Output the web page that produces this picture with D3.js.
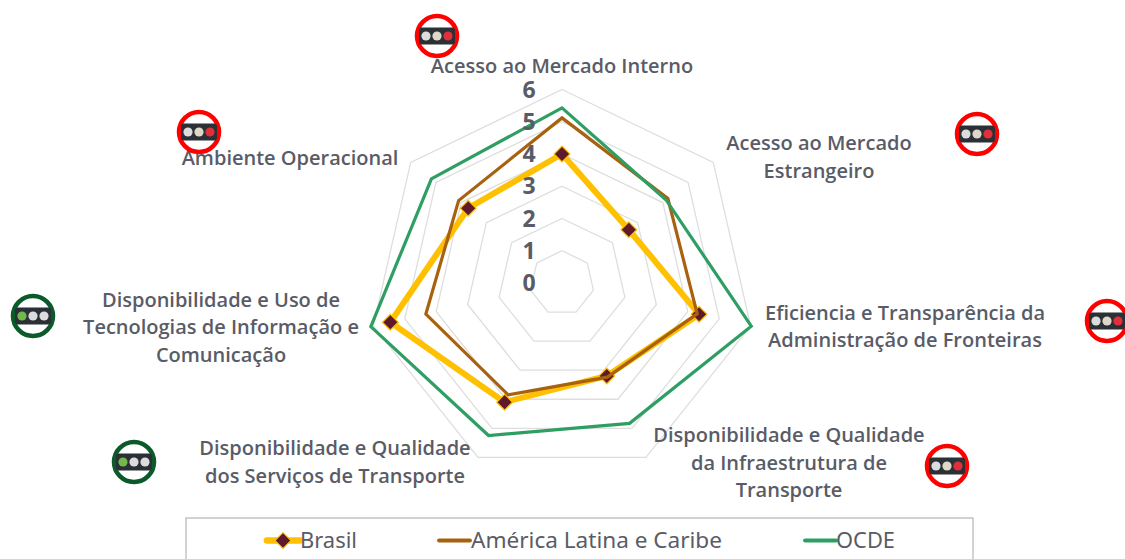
<!DOCTYPE html>
<html><head><meta charset="utf-8">
<script src="https://cdn.jsdelivr.net/npm/d3@7/dist/d3.min.js"></script>
<style>html,body{margin:0;padding:0;background:#fff;overflow:hidden}</style>
</head><body><svg id="c" width="1125" height="559"></svg>
<script>
const categories = ["Acesso ao Mercado Interno","Acesso ao Mercado Estrangeiro","Eficiencia e Transparência da Administração de Fronteiras","Disponibilidade e Qualidade da Infraestrutura de Transporte","Disponibilidade e Qualidade dos Serviços de Transporte","Disponibilidade e Uso de Tecnologias de Informação e Comunicação","Ambiente Operacional"];
const brasil = [4.0,2.65,4.36,3.2,4.1,5.46,3.72];
const latam = [5.12,4.2,4.3,3.24,3.85,4.33,4.1];
const ocde = [5.43,4.13,6.02,4.83,5.25,6.08,5.18];
const ticks = [0,1,2,3,4,5,6];
const signals = ["red","red","red","red","green","green","red"];

const labelLines = [["Acesso ao Mercado Interno"],["Acesso ao Mercado","Estrangeiro"],["Eficiencia e Transparência da","Administração de Fronteiras"],["Disponibilidade e Qualidade","da Infraestrutura de","Transporte"],["Disponibilidade e Qualidade","dos Serviços de Transporte"],["Disponibilidade e Uso de","Tecnologias de Informação e","Comunicação"],["Ambiente Operacional"]];
const labelAnchors = [[562,73],[819,150],[905,319.5],[789,442],[335,455],[221,306.5],[290,164.5]];
const iconAnchors = [[437,36],[977,134],[1107,321],[947,466],[134,462],[33,316],[199,132]];

const svg = d3.select("#c"), cx = 562, cy = 283;
const r = d3.scaleLinear().domain([0,6]).range([0,193.5]);
const ang = d3.scalePoint().domain(d3.range(categories.length)).range([0,2*Math.PI*6/7]);
const radial = d3.lineRadial().angle((d,i)=>ang(i)).radius(d=>r(d)).curve(d3.curveLinearClosed);
const g = svg.append("g").attr("transform",`translate(${cx},${cy})`);
const txt = "#595C66";

ticks.slice(1).forEach(t=>{
  g.append("path").attr("d",radial(categories.map(()=>t))).attr("fill","none").attr("stroke","#dedede").attr("stroke-width",1.3);
});

const series = [
  {name:"Brasil",v:brasil,c:"#FFC000",w:6},
  {name:"América Latina e Caribe",v:latam,c:"#A8610F",w:3.2},
  {name:"OCDE",v:ocde,c:"#2E9E63",w:3.2}
];
const diamond = d3.symbol().type(d3.symbolSquare).size(125);
series.forEach(s=>{
  g.append("path").attr("d",radial(s.v)).attr("fill","none").attr("stroke",s.c).attr("stroke-width",s.w).attr("stroke-linejoin","miter");
  if(s.name==="Brasil"){
    s.v.forEach((d,i)=>{
      const a=ang(i);
      g.append("path").attr("d",diamond()).attr("transform",`translate(${r(d)*Math.sin(a)},${-r(d)*Math.cos(a)}) rotate(45)`)
       .attr("fill","#5E1A2B").attr("stroke","#FFC000").attr("stroke-width",1.2);
    });
  }
});

ticks.forEach(t=>{
  g.append("text").attr("x",-33).attr("y",-r(t)+8).attr("font-family","'Open Sans'").attr("font-weight",700).attr("font-size",23).attr("fill",txt)
   .attr("text-anchor","middle").text(t);
});

labelLines.forEach((lines,i)=>{
  lines.forEach((l,j)=>{
    svg.append("text").attr("x",labelAnchors[i][0]).attr("y",labelAnchors[i][1]+j*27.5)
      .attr("text-anchor","middle").attr("font-family","'Open Sans'").attr("font-weight",600).attr("font-size",20).attr("fill",txt).text(l);
  });
});

const ringCol = {red:"#FF0000",green:"#0B5A2A"};
signals.forEach((s,i)=>{
  const [x,y]=iconAnchors[i];
  const ic=svg.append("g").attr("transform",`translate(${x},${y})`);
  ic.append("circle").attr("r",20).attr("fill","#fff").attr("stroke",ringCol[s]).attr("stroke-width",4.5);
  ic.append("rect").attr("x",-18).attr("y",-8.5).attr("width",36).attr("height",17).attr("rx",3).attr("fill","#2B2F36");
  const cols = s==="red"?["#DCDCDC","#DDD8C8","#E0303C"]:["#72B84A","#DCDCDC","#DCDCDC"];
  cols.forEach((c,k)=>ic.append("circle").attr("cx",(k-1)*11).attr("r",4.6).attr("fill",c));
});

// legend
svg.append("rect").attr("x",186).attr("y",518).attr("width",787).attr("height",60).attr("fill","#fff").attr("stroke","#a6a6a6").attr("stroke-width",1);
const lx=[[267,300],[439,470],[805,836]];
const tx=[300,471,836];
const lw=[57,251,59];
series.forEach((s,i)=>{
  const y=540.5;
  svg.append("line").attr("x1",lx[i][0]).attr("x2",lx[i][1]).attr("y1",y).attr("y2",y).attr("stroke",s.c).attr("stroke-width",s.w+0.6).attr("stroke-linecap","round");
  svg.append("text").attr("x",tx[i]).attr("y",548).attr("font-family","'Noto Sans'").attr("font-size",22).attr("fill",txt)
    .attr("textLength",lw[i]).attr("lengthAdjust","spacingAndGlyphs").text(s.name);
});
svg.append("path").attr("d",diamond()).attr("transform","translate(283,540.5) rotate(45)").attr("fill","#5E1A2B").attr("stroke","#FFC000");
</script></body></html>
